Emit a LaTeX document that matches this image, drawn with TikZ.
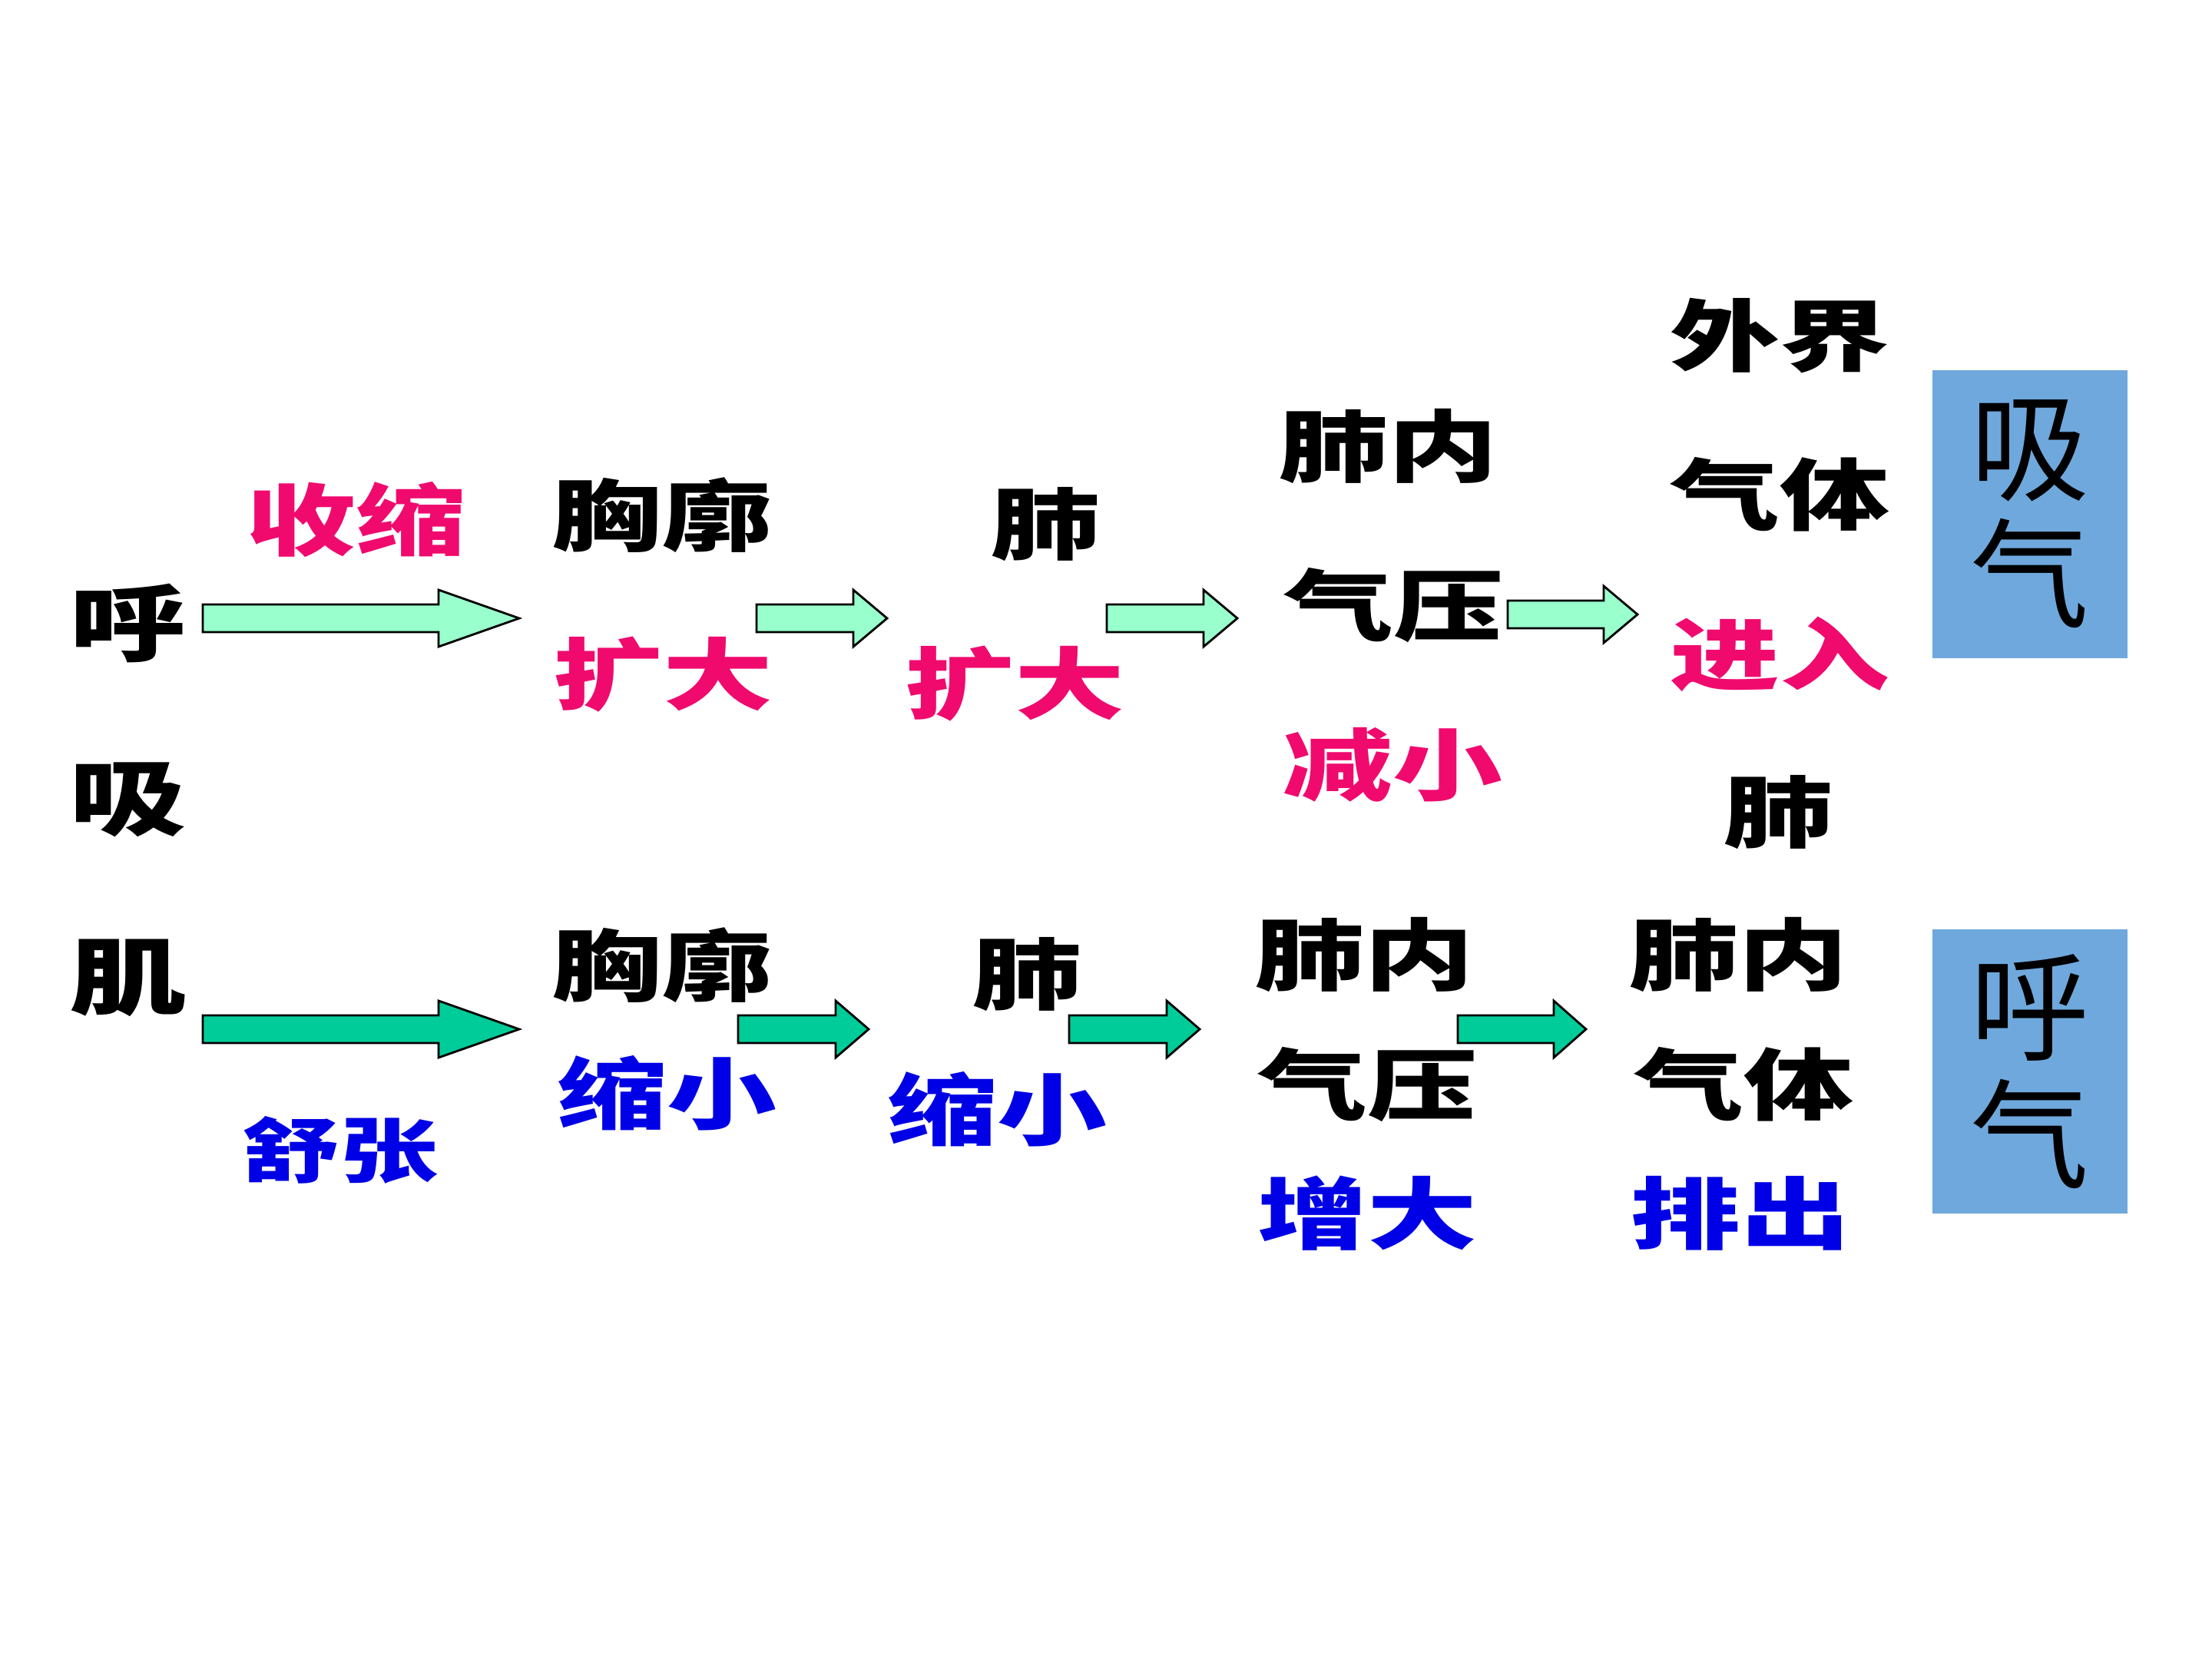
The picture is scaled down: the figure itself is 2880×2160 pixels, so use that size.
\documentclass[tikz,border=0pt]{standalone}
\usepackage{fontspec}
\usepackage{xcolor}
\usepackage{tikz}
\usetikzlibrary{positioning}

\newfontfamily\lishu{Noto Sans CJK SC}[FakeStretch=1.4]
\newfontfamily\hei{Noto Sans CJK SC}

\definecolor{rosered}{RGB}{240,10,110}
\definecolor{deepblue}{RGB}{0,0,230}
\definecolor{palegreen}{RGB}{153,255,204}
\definecolor{seagreen}{RGB}{0,204,153}
\definecolor{skyblue}{RGB}{111,168,220}

% block arrow: style, tail x, head base x, tip x, centre y (all in px)
\newcommand{\blockarrow}[5]{%
  \draw[#1] (#2,{#5-18}) -- (#3,{#5-18}) -- (#3,{#5-37}) -- (#4,#5)
    -- (#3,{#5+37}) -- (#3,{#5+18}) -- (#2,{#5+18}) -- cycle;}

\begin{document}
\begin{tikzpicture}[x=0.01cm, y=-0.01cm,
    word/.style={inner sep=0pt, font=\lishu\bfseries\fontsize{29pt}{29pt}\selectfont},
    smallword/.style={inner sep=0pt, font=\lishu\bfseries\fontsize{26pt}{26pt}\selectfont},
    bigword/.style={inner sep=0pt, font=\lishu\bfseries\fontsize{31pt}{31pt}\selectfont},
    upbox/.style={fill=skyblue, inner sep=0pt, minimum width=2.53cm, align=center,
      font=\hei\fontsize{44pt}{47pt}\selectfont},
    inarrow/.style={fill=palegreen, draw=black, line width=0.8pt},
    outarrow/.style={fill=seagreen, draw=black, line width=0.8pt}]
    % Canvas
    \useasboundingbox (0,0) rectangle (2880,2160);

    % Muscle column
    \node[bigword] (hu) at (167,811) {呼};
    \node[bigword] (xi) at (167,1041) {吸};
    \node[bigword] (ji) at (167,1273) {肌};

    % Inhalation row
    \node[word, rosered] (shousuo) at (463,677) {收缩};
    \node[word] (xiongkuo1) at (861,671) {胸廓};
    \node[word, rosered] (kuoda1) at (863,878) {扩大};
    \node[word] (fei1) at (1361,683) {肺};
    \node[word, rosered] (kuoda2) at (1321,890) {扩大};
    \node[word] (feinei1) at (1807,581) {肺内};
    \node[word] (qiya1) at (1814,788) {气压};
    \node[word, rosered] (jianxiao) at (1813,996) {减小};
    \node[word] (waijie) at (2317,437) {外界};
    \node[word] (qiti1) at (2317,644) {气体};
    \node[word, rosered] (jinru) at (2317,852) {进入};
    \node[word] (fei2) at (2315,1058) {肺};
    \node[upbox, minimum height=3.75cm] (xiqi) at (2643,669.5) {吸\\气};

    % Exhalation row
    \node[smallword, deepblue] (shuzhang) at (443,1497) {舒张};
    \node[word] (xiongkuo2) at (861,1257) {胸廓};
    \node[word, deepblue] (suoxiao1) at (868,1423) {缩小};
    \node[word] (fei3) at (1337,1269) {肺};
    \node[word, deepblue] (suoxiao2) at (1298,1444) {缩小};
    \node[word] (feinei2) at (1776,1243) {肺内};
    \node[word] (qiya2) at (1780,1412) {气压};
    \node[word, deepblue] (zengda) at (1780,1580) {增大};
    \node[word] (feinei3) at (2263,1243) {肺内};
    \node[word] (qiti2) at (2270,1412) {气体};
    \node[word, deepblue] (paichu) at (2266,1580) {排出};
    \node[upbox, minimum height=3.70cm] (huqi) at (2643,1395) {呼\\气};

    % Arrows, top row
    \blockarrow{inarrow}{264}{571}{676}{805}
    \blockarrow{inarrow}{985}{1111}{1155}{805}
    \blockarrow{inarrow}{1441}{1567}{1611}{805}
    \blockarrow{inarrow}{1963}{2088}{2132}{800}

    % Arrows, bottom row
    \blockarrow{outarrow}{264}{571}{676}{1340}
    \blockarrow{outarrow}{961}{1088}{1131}{1340}
    \blockarrow{outarrow}{1392}{1519}{1562}{1340}
    \blockarrow{outarrow}{1898}{2023}{2065}{1340}
\end{tikzpicture}
\end{document}
